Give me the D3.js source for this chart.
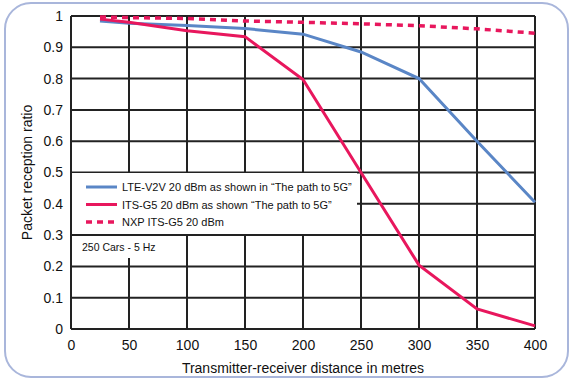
<!DOCTYPE html>
<html>
<head>
<meta charset="utf-8">
<script src="https://cdn.jsdelivr.net/npm/d3@7"></script>
<style>
  body { margin: 0; background: #fff; }
  text { font-family: "Liberation Sans", Arial, sans-serif; fill: #111; }
</style>
</head>
<body>
<div id="chart"></div>
<script>
// chart data
var distances = [25, 50, 100, 150, 200, 250, 300, 350, 400];
var lteV2V = [0.984, 0.977, 0.970, 0.960, 0.942, 0.885, 0.800, 0.600, 0.405];
var itsG5 = [0.990, 0.980, 0.953, 0.934, 0.797, 0.500, 0.204, 0.064, 0.010];
var nxpItsG5 = [0.997, 0.995, 0.992, 0.984, 0.980, 0.975, 0.969, 0.959, 0.945];
var xTicks = [0, 50, 100, 150, 200, 250, 300, 350, 400];
var yTicks = [0, 0.1, 0.2, 0.3, 0.4, 0.5, 0.6, 0.7, 0.8, 0.9, 1];
var seriesNames = ["LTE-V2V 20 dBm as shown in \u201cThe path to 5G\u201d",
                   "ITS-G5 20 dBm as shown \u201cThe path to 5G\u201d",
                   "NXP ITS-G5 20 dBm"];

var W = 572, H = 381;
var margin = {top: 16, right: 37, bottom: 52, left: 71},
    width = W - margin.left - margin.right,
    height = H - margin.top - margin.bottom;

var svg = d3.select("#chart").append("svg")
    .attr("width", W).attr("height", H);

// rounded outer frame
svg.append("rect")
    .attr("x", 5).attr("y", 3)
    .attr("width", 563).attr("height", 374)
    .attr("rx", 26).attr("ry", 26)
    .attr("fill", "none")
    .attr("stroke", "#a9b6db")
    .attr("stroke-width", 2);

var g = svg.append("g")
    .attr("transform", "translate(" + margin.left + "," + margin.top + ")");

var x = d3.scaleLinear().domain([0, 400]).range([0, width]);
var y = d3.scaleLinear().domain([0, 1]).range([height, 0]);

// grid
g.selectAll(".vgrid").data(xTicks).enter().append("line")
    .attr("x1", function(d) { return x(d); }).attr("x2", function(d) { return x(d); })
    .attr("y1", 0).attr("y2", height)
    .attr("stroke", "#222").attr("stroke-width", 2);
g.selectAll(".hgrid").data(yTicks).enter().append("line")
    .attr("y1", function(d) { return y(d); }).attr("y2", function(d) { return y(d); })
    .attr("x1", 0).attr("x2", width)
    .attr("stroke", "#222").attr("stroke-width", 2);

// axes (labels only)
var xAxis = g.append("g")
    .attr("transform", "translate(0," + height + ")")
    .call(d3.axisBottom(x).tickValues(xTicks).tickSize(0).tickPadding(11).tickFormat(d3.format("d")));
xAxis.select(".domain").remove();
xAxis.selectAll("text").style("font-size", "14px").attr("fill", "#111");

var yAxis = g.append("g")
    .call(d3.axisLeft(y).tickValues(yTicks).tickSize(0).tickPadding(8).tickFormat(function(d) { return d3.format("")(+d.toFixed(1)); }));
yAxis.select(".domain").remove();
yAxis.selectAll("text").style("font-size", "14px").attr("fill", "#111");

// axis titles
svg.append("text")
    .attr("x", margin.left + width / 2).attr("y", 373)
    .attr("text-anchor", "middle")
    .style("font-size", "14px")
    .text("Transmitter-receiver distance in metres");
svg.append("text")
    .attr("transform", "translate(32," + (margin.top + height / 2) + ") rotate(-90)")
    .attr("text-anchor", "middle")
    .style("font-size", "14px")
    .text("Packet reception ratio");

// legend box & note box
g.append("rect")
    .attr("x", 1).attr("y", 157).attr("width", 285).attr("height", 61)
    .attr("fill", "#fff");
g.append("rect")
    .attr("x", 1).attr("y", 220).attr("width", 108).attr("height", 22)
    .attr("fill", "#fff");

var line = d3.line()
    .x(function(d, i) { return x(distances[i]); })
    .y(function(d) { return y(d); });

var series = [
  {values: lteV2V, color: "#5a86c6", dash: null, width: 3},
  {values: itsG5, color: "#e8175d", dash: null, width: 3},
  {values: nxpItsG5, color: "#e8175d", dash: "6,5", width: 3.5}
];

series.forEach(function(s) {
  g.append("path")
      .datum(s.values)
      .attr("d", line)
      .attr("fill", "none")
      .attr("stroke", s.color)
      .attr("stroke-width", s.width)
      .attr("stroke-dasharray", s.dash);
});

// legend
var legend = g.append("g").attr("transform", "translate(15,171)");
series.forEach(function(s, i) {
  var row = legend.append("g").attr("transform", "translate(0," + (i * 17.5) + ")");
  row.append("line")
      .attr("x1", 0).attr("x2", 31)
      .attr("stroke", s.color)
      .attr("stroke-width", s.width)
      .attr("stroke-dasharray", s.dash);
  row.append("text")
      .attr("x", 36).attr("y", 4)
      .style("font-size", "11px")
      .text(seriesNames[i]);
});

g.append("text")
    .attr("x", 11).attr("y", 235)
    .style("font-size", "10.5px")
    .text("250 Cars - 5 Hz");
</script>
</body>
</html>
